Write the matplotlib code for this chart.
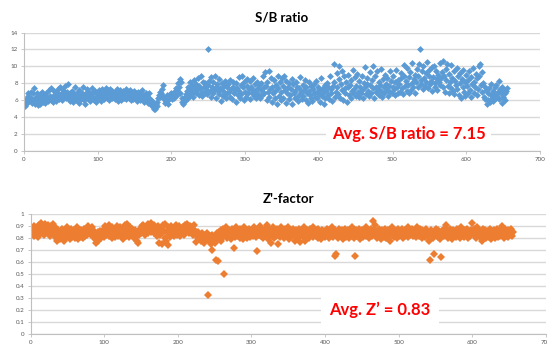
import numpy as np
import matplotlib
matplotlib.use("Agg")
import matplotlib.pyplot as plt

# S/B ratio per plate (in plate order)
sb_ratio = [
    5.3, 5.6, 6.1, 5.8, 6.5, 6.9, 5.9, 6.3, 7.0, 6.2, 5.7, 6.8, 7.4, 6.0, 5.6, 6.4, 6.9, 5.9, 5.4, 6.2,
    6.7, 5.5, 6.1, 7.0, 6.3, 5.8, 6.6, 6.0, 5.7, 6.9, 6.4, 6.1, 5.9, 7.2, 6.5, 7.4, 6.0, 6.3, 5.8, 6.6,
    7.1, 6.2, 6.8, 5.9, 6.5, 7.3, 6.1, 6.7, 7.6, 6.3, 6.0, 6.9, 7.2, 6.4, 7.7, 6.6, 6.2, 7.0, 7.9, 6.5,
    6.1, 6.8, 5.9, 6.4, 7.1, 6.3, 5.8, 6.7, 7.5, 6.2, 6.0, 6.9, 6.4, 5.7, 7.2, 6.5, 6.1, 6.8, 6.3, 7.6,
    6.0, 6.6, 5.6, 6.9, 7.3, 6.2, 6.5, 7.0, 6.1, 5.9, 6.7, 7.4, 6.3, 6.8, 6.0, 7.1, 6.4, 5.8, 6.9, 6.6,
    6.2, 7.2, 6.5, 5.9, 6.8, 7.3, 6.4, 6.1, 7.0, 6.6, 7.4, 6.3, 6.9, 7.2, 6.0, 6.7, 7.3, 6.5, 6.2, 7.1,
    6.8, 6.4, 7.0, 6.1, 6.6, 7.3, 6.3, 5.9, 6.9, 7.2, 6.5, 6.0, 6.7, 7.1, 6.4, 6.2, 6.8, 7.3, 6.1, 6.6,
    7.0, 6.3, 6.5, 7.2, 6.0, 6.8, 6.4, 6.1, 7.1, 6.6, 6.2, 6.9, 5.9, 6.5, 7.0, 6.3, 6.7, 6.0, 6.4, 7.2,
    6.1, 6.6, 5.8, 6.3, 6.9, 6.0, 6.5, 5.7, 6.8, 6.2, 5.6, 6.0, 5.4, 5.9, 5.2, 5.6, 5.0, 4.9, 5.5, 5.3,
    5.8, 6.2, 6.6, 7.0, 6.4, 6.9, 7.3, 6.5, 7.8, 6.1, 5.7, 6.3, 5.9, 6.6, 6.0, 5.6, 6.2, 6.7, 6.4, 6.9,
    6.1, 6.5, 7.0, 6.3, 6.8, 7.4, 6.6, 7.2, 8.0, 7.5, 6.9, 8.5, 8.2, 6.3, 5.8, 5.5, 6.0, 6.4, 5.9, 6.7,
    7.1, 6.2, 7.6, 6.5, 8.1, 7.3, 6.8, 7.8, 6.4, 7.0, 8.4, 7.5, 6.9, 7.9, 7.2, 8.6, 7.7, 6.6, 7.4, 8.8,
    7.0, 6.5, 8.2, 7.6, 6.9, 8.0, 7.3, 6.7, 12.1, 7.8, 8.3, 7.1, 6.4, 8.7, 7.5, 6.8, 8.1, 7.2, 8.9, 7.6,
    6.3, 7.9, 7.1, 8.5, 6.7, 7.4, 5.9, 8.0, 7.2, 6.5, 7.7, 6.9, 8.3, 6.2, 7.5, 6.8, 7.9, 7.0, 6.4, 8.4,
    7.3, 6.1, 7.6, 8.1, 6.9, 7.2, 5.8, 8.0, 7.4, 6.6, 8.7, 7.1, 6.3, 7.8, 6.7, 8.9, 7.5, 6.0, 8.2, 7.0,
    6.4, 7.7, 8.5, 6.8, 7.3, 6.1, 8.3, 7.6, 6.9, 7.2, 8.6, 6.5, 7.9, 7.1, 6.3, 8.1, 7.4, 6.7, 7.8, 6.2,
    8.0, 7.2, 6.6, 8.8, 7.5, 6.9, 9.3, 7.7, 6.0, 8.2, 7.0, 6.4, 9.5, 7.3, 8.6, 5.8, 7.6, 6.8, 8.4, 7.1,
    6.2, 7.8, 5.5, 8.9, 7.4, 6.5, 8.1, 7.0, 6.0, 8.6, 7.7, 6.3, 8.8, 7.2, 5.7, 8.3, 6.9, 7.5, 6.1, 8.0,
    6.6, 7.3, 8.5, 5.6, 7.9, 6.8, 7.1, 6.2, 8.2, 7.6, 6.4, 5.9, 7.4, 8.7, 6.7, 7.0, 6.1, 7.8, 6.5, 7.2,
    8.4, 6.0, 7.5, 6.8, 5.7, 7.1, 8.1, 6.6, 7.7, 6.3, 5.9, 7.3, 6.9, 7.9, 6.4, 8.3, 7.0, 6.2, 7.6, 6.7,
    5.8, 7.2, 8.6, 6.5, 7.4, 6.9, 5.6, 7.8, 6.2, 7.1, 8.0, 6.6, 7.5, 6.1, 8.9, 7.3, 6.8, 5.9, 7.7, 10.3,
    8.2, 6.4, 7.0, 9.2, 7.6, 6.7, 8.5, 10.0, 6.3, 7.9, 9.4, 7.2, 6.0, 8.8, 7.4, 6.9, 8.1, 5.8, 7.5, 9.0,
    6.6, 7.8, 6.2, 8.4, 7.1, 9.6, 6.8, 7.3, 8.7, 6.5, 7.7, 9.1, 7.0, 6.4, 8.3, 7.6, 6.9, 8.9, 7.2, 6.3,
    8.0, 7.5, 9.9, 6.7, 7.9, 8.6, 7.1, 6.5, 9.3, 7.8, 6.9, 8.4, 10.1, 7.4, 6.2, 8.8, 7.6, 7.0, 9.5, 7.3,
    6.6, 8.2, 7.8, 9.7, 7.1, 6.4, 8.5, 7.5, 6.8, 9.0, 7.9, 7.2, 8.6, 6.5, 7.7, 9.4, 7.0, 8.3, 6.9, 7.6,
    8.9, 7.3, 6.6, 8.1, 9.6, 7.5, 6.8, 8.4, 7.9, 7.0, 9.2, 8.6, 7.4, 6.7, 8.8, 10.2, 7.7, 8.3, 7.1, 9.8,
    7.8, 6.9, 8.7, 9.3, 7.2, 8.0, 10.4, 7.6, 8.5, 9.0, 6.8, 8.2, 9.7, 7.5, 8.9, 10.3, 12.0, 7.9, 8.4, 9.5,
    7.3, 10.0, 8.6, 7.7, 9.2, 8.1, 10.5, 7.4, 8.8, 9.6, 7.9, 8.3, 9.9, 7.1, 8.7, 10.1, 8.0, 7.6, 9.4, 8.5,
    7.2, 9.0, 8.2, 10.4, 7.8, 8.6, 9.3, 7.5, 10.6, 8.9, 7.0, 9.7, 8.4, 10.3, 7.7, 6.9, 9.1, 8.1, 7.4, 10.2,
    8.6, 7.1, 9.5, 6.7, 8.3, 7.8, 9.8, 7.3, 8.8, 6.6, 9.2, 8.0, 6.3, 8.5, 7.6, 9.6, 7.0, 8.2, 6.5, 9.0,
    7.7, 8.4, 6.8, 9.4, 7.2, 6.4, 8.7, 7.9, 9.8, 6.9, 8.1, 7.5, 9.1, 6.6, 8.6, 7.3, 10.1, 8.8, 10.3, 7.8,
    9.3, 7.0, 8.0, 6.4, 7.6, 6.1, 7.2, 5.6, 6.8, 6.0, 7.4, 5.8, 6.6, 7.9, 6.3, 7.1, 5.9, 6.7, 7.5, 6.2,
    7.8, 6.5, 7.0, 8.3, 6.1, 7.3, 6.8, 5.7, 7.6, 6.4, 7.2, 6.9, 6.0, 7.1, 7.4,
]

# Z'-factor per plate
z_factor = [
    .86, .84, .88, .82, .90, .85, .87, .83, .89, .81, .86, .91, .84, .93, .88, .85, .90, .83, .87, .92,
    .86, .89, .84, .91, .87, .82, .90, .85, .88, .92, .86, .83, .89, .80, .84, .78, .87, .82, .85, .79,
    .83, .88, .81, .86, .78, .84, .87, .80, .85, .89, .82, .86, .79, .84, .88, .81, .85, .83, .87, .80,
    .86, .84, .89, .82, .79, .85, .83, .87, .81, .84, .80, .86, .88, .82, .85, .83, .87, .90, .84, .86,
    .88, .83, .89, .85, .87, .82, .84, .79, .76, .81, .85, .78, .83, .86, .80, .84, .82, .87, .85, .81,
    .90, .83, .86, .88, .84, .91, .82, .87, .85, .80, .89, .83, .86, .81, .88, .84, .90, .85, .82, .87,
    .83, .89, .86, .84, .79, .88, .85, .91, .82, .86, .92, .84, .87, .81, .89, .85, .83, .88, .86, .84,
    .80, .87, .82, .78, .85, .76, .83, .88, .86, .84, .90, .87, .91, .85, .89, .83, .88, .86, .92, .84,
    .87, .90, .85, .93, .88, .86, .91, .84, .89, .87, .85, .82, .90, .76, .86, .83, .88, .75, .84, .91,
    .86, .80, .92, .78, .85, .89, .74, .83, .87, .81, .90, .85, .88, .84, .82, .89, .86, .91, .83, .87,
    .85, .90, .82, .88, .86, .84, .89, .87, .83, .91, .85, .88, .92, .86, .84, .90, .87, .89, .85, .83,
    .88, .91, .86, .84, .77, .82, .80, .85, .83, .79, .81, .78, .84, .82, .80, .76, .83, .79, .81, .84,
    .33, .78, .82, .80, .75, .70, .83, .79, .81, .77, .76, .62, .84, .61, .80, .85, .82, .78, .87, .84,
    .88, .81, .50, .86, .83, .89, .80, .85, .82, .87, .84, .79, .88, .83, .86, .72, .85, .81, .89, .84,
    .82, .87, .85, .80, .88, .83, .86, .79, .84, .89, .82, .86, .85, .80, .87, .83, .88, .81, .85, .84,
    .86, .82, .89, .84, .87, .81, .85, .69, .88, .83, .86, .90, .82, .85, .87, .80, .84, .88, .83, .86,
    .91, .79, .85, .88, .82, .76, .86, .83, .89, .84, .80, .87, .85, .82, .88, .75, .84, .86, .81, .89,
    .83, .87, .85, .80, .88, .84, .86, .82, .89, .83, .79, .85, .87, .81, .84, .88, .86, .83, .78, .85,
    .87, .82, .80, .84, .88, .77, .85, .83, .86, .81, .89, .84, .78, .86, .82, .87, .85, .80, .83, .88,
    .84, .86, .81, .89, .85, .83, .87, .82, .84, .88, .80, .86, .83, .85, .79, .87, .84, .82, .86, .81,
    .85, .88, .83, .87, .80, .84, .86, .82, .89, .85, .81, .83, .87, .65, .67, .84, .86, .80, .88, .83,
    .85, .82, .87, .84, .79, .86, .88, .83, .81, .85, .87, .80, .84, .86, .82, .89, .83, .85, .80, .65,
    .84, .87, .82, .86, .83, .88, .85, .79, .84, .87, .81, .86, .83, .85, .89, .82, .84, .87, .80, .86,
    .83, .85, .88, .82, .94, .84, .87, .91, .83, .86, .80, .85, .88, .82, .84, .79, .87, .83, .86, .81,
    .85, .88, .80, .84, .87, .82, .85, .78, .86, .83, .89, .84, .81, .87, .85, .82, .86, .80, .88, .84,
    .82, .86, .85, .83, .88, .80, .84, .87, .82, .86, .85, .81, .89, .84, .87, .83, .85, .88, .82, .86,
    .84, .87, .81, .85, .89, .83, .86, .82, .88, .84, .80, .87, .85, .83, .86, .81, .88, .84, .82, .85,
    .78, .62, .84, .87, .82, .85, .80, .67, .86, .83, .88, .84, .81, .87, .85, .79, .83, .64, .86, .84,
    .88, .82, .85, .91, .83, .87, .80, .86, .84, .88, .82, .85, .79, .87, .83, .86, .84, .81, .88, .85,
    .83, .87, .80, .85, .89, .82, .86, .84, .81, .87, .85, .83, .88, .80, .84, .86, .82, .87, .85, .93,
    .84, .88, .82, .86, .80, .85, .89, .83, .87, .81, .84, .86, .78, .85, .88, .82, .87, .84, .80, .86,
    .83, .85, .81, .88, .84, .79, .86, .82, .87, .85, .80, .83, .86, .88, .81, .84, .87, .82, .85, .90,
    .83, .86, .80, .84, .88, .82, .85, .87, .81, .84, .86, .83, .88, .82, .85,
]

sb_label = "Avg. S/B ratio = 7.15"
z_label = "Avg. Z\u2019 = 0.83"

BLUE = "#5B9BD5"
ORANGE = "#ED7D31"
GRID = "#D9D9D9"
TICK = "#595959"

plt.rcParams["font.family"] = ["Lato", "DejaVu Sans"]

fig = plt.figure(figsize=(5.47, 3.5), dpi=100)
ax1 = fig.add_axes([0.044, 0.569, 0.943, 0.338])
ax2 = fig.add_axes([0.056, 0.045, 0.942, 0.343])


def style_axes(ax, yticks, ylim, yfmt):
    ax.set_xlim(0, 700)
    ax.set_ylim(*ylim)
    ax.set_xticks(np.arange(0, 701, 100))
    ax.set_yticks(yticks)
    ax.set_yticklabels([yfmt(v) for v in yticks])
    ax.grid(axis="y", color=GRID, linewidth=1.0)
    ax.set_axisbelow(True)
    for side in ("top", "right"):
        ax.spines[side].set_visible(False)
    for side in ("left", "bottom"):
        ax.spines[side].set_color("#BFBFBF")
        ax.spines[side].set_linewidth(0.8)
    ax.tick_params(labelsize=4.5, colors=TICK, length=2.5, width=0.6, pad=2)
    ax.tick_params(axis="both", color="#BFBFBF")


x1 = np.arange(1, len(sb_ratio) + 1)
ax1.plot(x1, sb_ratio, "D", color=BLUE, markersize=3.5, markeredgewidth=0)
style_axes(ax1, np.arange(0, 15, 2), (0, 14), lambda v: f"{v:g}")
ax1.set_title("S/B ratio", fontsize=9.5, fontweight="bold", pad=8)
ax1.text(522, 2, sb_label, color="red", fontsize=12, fontweight="bold",
         ha="center", va="center",
         bbox=dict(facecolor="white", edgecolor="none", pad=4))

x2 = np.arange(1, len(z_factor) + 1)
ax2.plot(x2, z_factor, "D", color=ORANGE, markersize=4.2, markeredgewidth=0)
style_axes(ax2, np.round(np.arange(0, 1.01, 0.1), 1), (0, 1), lambda v: f"{v:g}")
ax2.set_title("Z'-factor", fontsize=9.5, fontweight="bold", pad=8)
ax2.text(474, 0.2, z_label, color="red", fontsize=12, fontweight="bold",
         ha="center", va="center",
         bbox=dict(facecolor="white", edgecolor="none", pad=6))

fig.savefig("out.png", dpi=100)
